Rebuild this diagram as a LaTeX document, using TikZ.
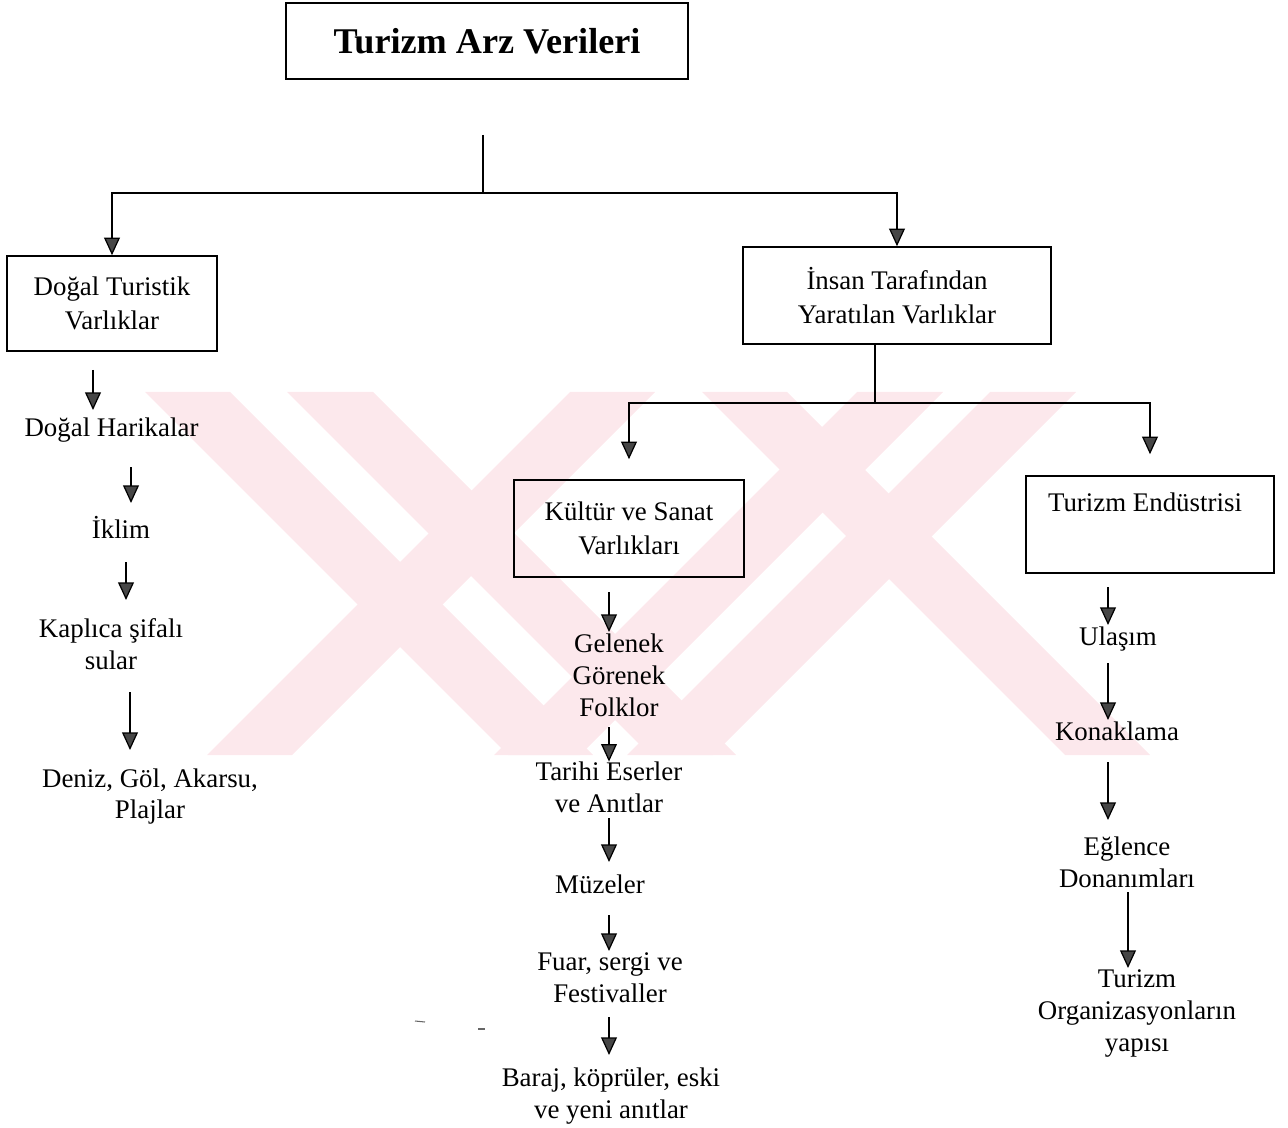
\documentclass[tikz,border=0pt]{standalone}
\usepackage{fontspec}
\setmainfont{Liberation Serif}
\usetikzlibrary{arrows.meta}
\definecolor{wmpink}{RGB}{252,232,236}
\definecolor{headfill}{RGB}{70,70,70}

\begin{document}
\begin{tikzpicture}[x=0.02cm, y=-0.02cm,
  frame/.style={draw, line width=0.9pt, inner sep=0pt},
  box/.style={frame, align=center, font=\fontsize{15.3}{19}\selectfont},
  lbl/.style={inner sep=0pt, align=center, anchor=north, font=\fontsize{15.3}{18.1}\selectfont},
  link/.style={line width=0.7pt},
  arr/.style={link, -{Triangle[width=9pt,length=10pt,fill=headfill]}},
  wm/.style={fill=wmpink, draw=none}]

\useasboundingbox (0,0) rectangle (1288,1128);

% faint background emblem
\begin{scope}
  \clip (145,392) rectangle (1150,755);
  \fill[wm] (145,392) -- (230,392) -- (593,755) -- (508,755) -- cycle;
  \fill[wm] (287,392) -- (373,392) -- (736,755) -- (650,755) -- cycle;
  \fill[wm] (570,392) -- (655,392) -- (292,755) -- (207,755) -- cycle;
  \fill[wm] (857,392) -- (943,392) -- (580,755) -- (494,755) -- cycle;
  \fill[wm] (990,392) -- (1076,392) -- (713,755) -- (627,755) -- cycle;
  \fill[wm] (702,392) -- (787,392) -- (1150,755) -- (1065,755) -- cycle;
\end{scope}

% title
\node[frame, minimum width=8.04cm, minimum height=1.52cm,
      font=\fontsize{20.6}{24}\bfseries\selectfont] (title) at (487,41) {Turizm Arz Verileri};

% main boxes
\node[box, minimum width=4.2cm, minimum height=1.9cm] (dtv) at (112,303.5) {Doğal Turistik\\Varlıklar};
\node[box, minimum width=6.16cm, minimum height=1.94cm] (itv) at (897,295.5) {İnsan Tarafından\\Yaratılan Varlıklar};
\node[box, minimum width=4.6cm, minimum height=1.94cm] (ksv) at (629,528.5) {Kültür ve Sanat\\Varlıkları};
\node[frame, minimum width=4.96cm, minimum height=1.94cm] (tev) at (1150,524.5) {};
\node[inner sep=0pt, anchor=base, font=\fontsize{15.3}{18.1}\selectfont] (tevt) at (1145,511) {Turizm Endüstrisi};

% branch connectors
\coordinate (stem) at (483,135);
\coordinate (j1) at (483,193);
\draw[link] (stem) -- (j1);
\draw[arr] (j1) -| (dtv.north);
\draw[arr] (j1) -| (itv.north);

\coordinate (j2) at (875,403);
\draw[link] (itv.south -| j2) -- (j2);
\draw[arr, shorten >=0.4cm] (j2) -| (ksv.north);
\draw[arr, shorten >=0.42cm] (j2) -| (tev.north);

% natural assets column
\node[lbl] (dh) at (111.5,417.6) {Doğal Harikalar};
\node[lbl] (ik) at (121,516) {İklim};
\node[lbl] (kp) at (111,618.6) {Kaplıca şifalı\\sular};
\node[lbl] (dz) at (150,768) {Deniz, Göl, Akarsu,\\Plajlar};

\coordinate (l1) at (93,370);
\coordinate (l2) at (131,467);
\coordinate (l3) at (126,562);
\coordinate (l4) at (130,692);
\draw[arr, shorten >=0.152cm] (l1) -- (l1 |- dh.north);
\draw[arr, shorten >=0.26cm] (l2) -- (l2 |- ik.north);
\draw[arr, shorten >=0.372cm] (l3) -- (l3 |- kp.north);
\draw[arr, shorten >=0.36cm] (l4) -- (l4 |- dz.north);

% culture and art column
\node[lbl] (ge) at (619,633.6) {Gelenek\\Görenek\\Folklor};
\node[lbl] (ta) at (609,761.6) {Tarihi Eserler\\ve Anıtlar};
\node[lbl] (mz) at (600,874.6) {Müzeler};
\node[lbl] (fu) at (610,952.6) {Fuar, sergi ve\\Festivaller};
\node[lbl] (bk) at (611,1067.6) {Baraj, köprüler, eski\\ve yeni anıtlar};

\coordinate (m1) at (609,592);
\coordinate (m2) at (609,727);
\coordinate (m3) at (609,818);
\coordinate (m4) at (609,915);
\coordinate (m5) at (609,1017);
\draw[arr, shorten >=0.032cm] (m1) -- (m1 |- ge.north);
\draw[arr] (m2) -- (m2 |- ta.north);
\draw[arr, shorten >=0.252cm] (m3) -- (m3 |- mz.north);
\draw[arr, shorten >=0.032cm] (m4) -- (m4 |- fu.north);
\draw[arr, shorten >=0.252cm] (m5) -- (m5 |- bk.north);

% tourism industry column
\node[lbl] (ul) at (1118,626.6) {Ulaşım};
\node[lbl] (ko) at (1117,721.6) {Konaklama};
\node[lbl] (eg) at (1127,836.6) {Eğlence\\Donanımları};
\node[lbl] (to) at (1137,969.6) {Turizm\\Organizasyonların\\yapısı};

\coordinate (r1) at (1108,587);
\coordinate (r2) at (1108,663);
\coordinate (r3) at (1108,762);
\coordinate (r4) at (1128,892);
\draw[arr, shorten >=0.032cm] (r1) -- (r1 |- ul.north);
\draw[arr, shorten >=0.032cm] (r2) -- (r2 |- ko.north);
\draw[arr, shorten >=0.332cm] (r3) -- (r3 |- eg.north);
\draw[arr, shorten >=0.032cm] (r4) -- (r4 |- to.north);

% stray marks
\draw[black!60, line width=0.6pt] (415,1021) -- (425,1022);
\draw[black!60, line width=0.6pt] (478,1029) -- (485,1029);
\end{tikzpicture}
\end{document}
